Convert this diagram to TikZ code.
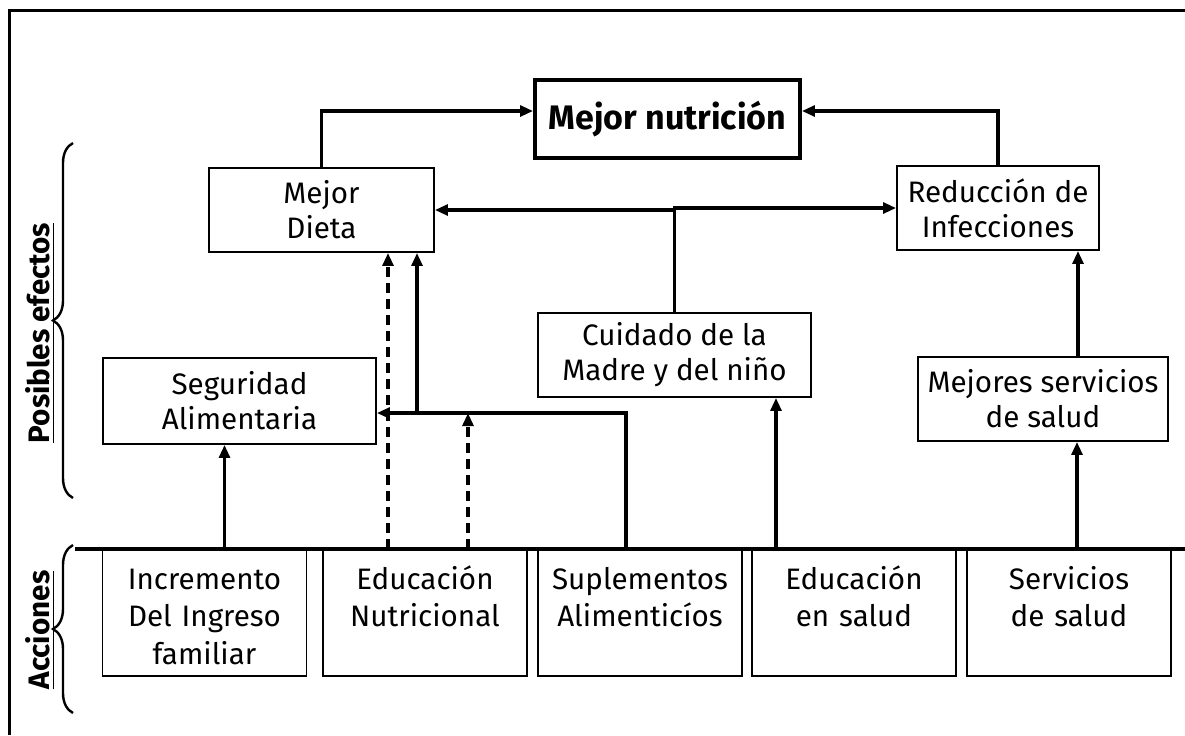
\documentclass[tikz,border=0pt]{standalone}
\usepackage{fontspec}
\setmainfont{Fira Sans}
\usetikzlibrary{arrows.meta,decorations.pathreplacing}
\tikzset{
    efecto/.style={draw, line width=0.9pt, align=center, inner sep=0pt,
        font=\fontsize{14.8pt}{17.5pt}\selectfont},
    accion/.style={draw, line width=0.9pt, align=center, inner sep=0pt, anchor=north,
        text width=102pt, text height=19.75pt, text depth=43.25pt,
        font=\fontsize{14.8pt}{18.75pt}\selectfont},
    flecha/.style={line width=1.9pt, -{Triangle[length=6.5pt,width=5.4pt]}},
    punteada/.style={flecha, dash pattern=on 5pt off 3pt},
    llave/.style={decorate, decoration={brace, amplitude=10pt}, line width=1.2pt},
    titulo/.style={rotate=90, font=\bfseries\fontsize{14.8pt}{17pt}\selectfont}
}
\begin{document}
\begin{tikzpicture}[x=0.5pt, y=-0.5pt]
    \useasboundingbox (0,0) rectangle (1185,735);
    %% frame
    \draw[line width=1.5pt] (9,735) -- (9,10) -- (1185,10);
    %% possible effects
    \node[efecto, line width=1.9pt, minimum width=132.5pt, minimum height=39pt,
        font=\bfseries\fontsize{17pt}{20pt}\selectfont] (nutricion) at (667.5,119) {Mejor nutrición};
    \node[efecto, minimum width=112.5pt, minimum height=42pt] (dieta) at (321.5,210) {Mejor\\Dieta};
    \node[efecto, minimum width=101pt, minimum height=42pt] (reduccion) at (998,208) {Reducción de\\Infecciones};
    \node[efecto, minimum width=136.5pt, minimum height=42pt] (cuidado) at (674.5,355) {Cuidado de la\\Madre y del niño};
    \node[efecto, minimum width=136.5pt, minimum height=43pt] (seguridad) at (239.5,401) {Seguridad\\Alimentaria};
    \node[efecto, minimum width=125pt, minimum height=42pt] (servmej) at (1043,399) {Mejores servicios\\de salud};
    %% actions
    \draw[line width=2pt] (75,549) -- (1185,549);
    \node[accion] (ingreso) at (204.5,549) {Incremento\\Del Ingreso\\familiar};
    \node[accion] (nutric) at (425,549) {Educación\\Nutricional};
    \node[accion] (suplem) at (640,549) {Suplementos\\Alimenticíos};
    \node[accion] (edsalud) at (854,549) {Educación\\en salud};
    \node[accion] (servsalud) at (1069,549) {Servicios\\de salud};
    %% braces and titles
    \draw[llave] (73,498) -- (73,143);
    \draw[llave] (73,713) -- (73,545);
    \node[titulo] (posibles) at (40,333) {\underline{Posibles efectos}};
    \node[titulo] (acciones) at (40,630) {\underline{Acciones}};
    %% connectors
    \coordinate (cruce) at (417,413);
    \draw[flecha] (dieta.north) |- ([yshift=4pt]nutricion.west);
    \draw[flecha] (reduccion.north) |- ([yshift=4pt]nutricion.east);
    \draw[flecha] (cuidado.north) |- (dieta.east);
    \draw[flecha] (cuidado.north) |- (reduccion.west);
    \draw[flecha] ([xshift=10pt]ingreso.north) -- ([xshift=10pt]ingreso.north |- seguridad.south);
    \draw[flecha] ([xshift=-7pt]suplem.north) |- (seguridad.east |- cruce);
    \draw[flecha] (cruce) -- (cruce |- dieta.south);
    \draw[punteada] ([xshift=-18.5pt]nutric.north) -- ([xshift=-18.5pt]nutric.north |- dieta.south);
    \draw[punteada] ([xshift=21.5pt]nutric.north) -- ([xshift=21.5pt]nutric.north |- cruce);
    \draw[flecha] ([xshift=-39pt]edsalud.north) -- ([xshift=-39pt]edsalud.north |- cuidado.south);
    \draw[flecha] ([xshift=4pt]servsalud.north) -- ([xshift=4pt]servsalud.north |- servmej.south);
    \draw[flecha] ([xshift=17.5pt]servmej.north) -- ([xshift=17.5pt]servmej.north |- reduccion.south);
\end{tikzpicture}
\end{document}
